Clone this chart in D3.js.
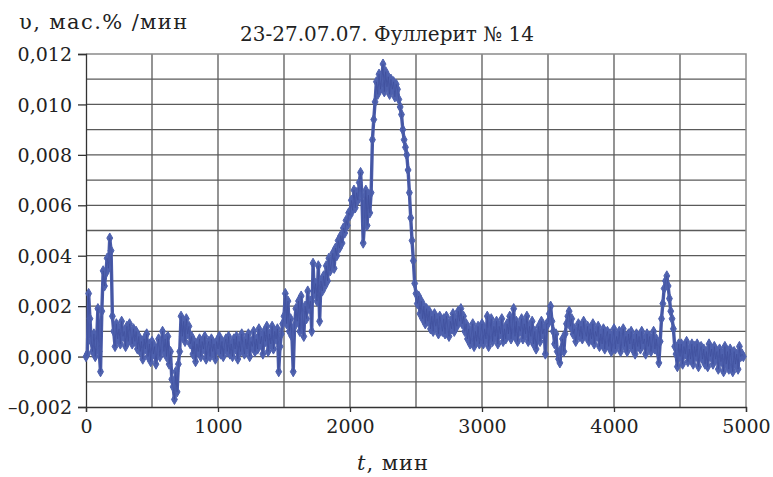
<!DOCTYPE html>
<html><head><meta charset="utf-8">
<script src="https://cdn.jsdelivr.net/npm/d3@7"></script>
<style>
html,body{margin:0;padding:0;background:#fff;}
svg text{font-family:"DejaVu Serif","Liberation Serif",serif;fill:#222;}
</style></head>
<body><svg id="chart" width="773" height="477"></svg>
<script>
// Time step of series (minutes)
const tStep = 10;
// Rate values, in units of 0.001 mass%/min, sampled every 10 min starting at t = 0
const rateE3 = [
 0.0, 0.1, 2.5, 1.5, 0.6, 0.2, 0.9, 0.0, 0.5, 1.9,
 0.2, -0.6, 1.8, 3.4, 2.8, 3.3, 3.9, 3.5, 4.7, 4.2,
 1.6, 1.0, 0.4, 1.3, 0.7, 1.1, 0.5, 1.4, 0.8, 1.0,
 0.4, 1.2, 0.6, 1.3, 0.9, 0.5, 1.1, 0.6, 1.0, 0.3,
 0.8, 0.2, 0.6, -0.1, 0.7, 0.3, 0.9, 0.0, 0.5, -0.2,
 0.6, 0.1, 0.4, -0.3, 0.3, 0.7, 0.0, 0.5, 1.0, 0.2,
 0.7, 0.0, 0.8, -0.3, 0.2, -0.9, -1.2, -1.7, -0.6, -1.4,
 -0.3, 0.2, 1.6, 0.8, 1.4, 0.6, 1.5, 0.9, 1.2, 0.5,
 0.8, 0.1, 0.6, -0.2, 0.5, 0.2, 0.7, 0.0, 0.6, 0.3,
 0.8, -0.1, 0.4, 0.6, 0.0, 0.7, 0.2, 0.5, -0.1, 0.6,
 0.3, 0.8, 0.1, 0.6, 0.0, 0.5, 0.7, 0.2, 0.8, 0.1,
 0.5, 0.0, 0.7, 0.3, 0.8, -0.1, 0.6, 0.2, 0.9, 0.4,
 0.1, 0.7, 0.3, 0.9, 0.0, 0.6, 0.4, 1.0, 0.2, 0.7,
 0.3, 1.1, 0.5, 0.8, 0.1, 1.0, 0.6, 1.2, 0.2, 0.9,
 0.5, 1.2, 0.3, 1.0, 0.7, 1.1, -0.6, 0.4, 0.9, 1.3,
 1.6, 2.5, 1.3, 2.2, 1.0, 1.5, 0.8, -0.6, 1.2, 1.9,
 1.4, 2.2, 1.0, 2.4, 1.6, 0.8, 2.0, 1.5, 2.6, 1.9,
 2.2, 1.0, 3.7, 2.5, 2.9, 2.2, 3.6, 1.4, 3.0, 2.6,
 3.2, 2.8, 3.6, 3.0, 3.9, 3.4, 3.7, 4.1, 3.5, 4.3,
 4.0, 4.6, 4.3, 4.8, 4.5, 5.1, 4.9, 5.4, 5.2, 5.7,
 5.6, 6.2, 5.8, 6.6, 5.9, 6.5, 6.2, 6.9, 7.3, 6.4,
 4.5, 5.3, 6.6, 5.2, 6.4, 5.7, 6.5, 8.6, 9.4, 10.1,
 10.9, 10.4, 11.2, 10.6, 11.0, 11.6, 10.5, 11.3, 10.7, 11.1,
 10.4, 11.0, 10.6, 10.9, 10.3, 10.8, 10.6, 10.2, 9.9, 9.6,
 9.0, 8.6, 8.3, 8.0, 7.4, 6.5, 5.5, 4.6, 3.8, 2.9,
 2.5, 2.1, 2.4, 1.7, 2.2, 1.5, 2.0, 1.3, 1.9, 1.4,
 1.8, 1.1, 1.6, 1.0, 1.7, 1.2, 1.5, 0.9, 1.6, 1.3,
 1.0, 1.5, 0.9, 1.6, 1.2, 0.8, 1.4, 1.1, 1.7, 1.0,
 1.5, 1.2, 1.8, 1.4, 1.9, 1.3, 1.6, 1.0, 1.3, 0.7,
 1.1, 0.5, 0.9, 1.3, 0.4, 1.0, 0.6, 1.2, 0.5, 0.9,
 1.3, 0.5, 1.1, 0.7, 1.6, 0.4, 1.0, 1.5, 0.6, 1.2,
 0.8, 1.4, 0.5, 1.2, 0.9, 1.5, 0.6, 1.1, 0.7, 1.3,
 0.9, 1.6, 0.7, 1.3, 1.9, 0.8, 1.4, 0.6, 1.2, 1.0,
 1.5, 0.7, 1.3, 0.9, 1.6, 0.6, 1.2, 0.8, 1.4, 0.5,
 1.0, 0.3, 0.8, 1.2, 0.6, 1.4, 0.9, 1.1, 0.1, 1.3,
 1.3, 1.7, 2.0, 1.4, 1.0, 0.5, 0.9, 0.2, -0.1, -0.25,
 0.3, 0.7, 0.2, 0.9, 1.3, 1.6, 1.8, 1.2, 1.5, 0.9,
 1.1, 0.6, 0.9, 1.3, 0.8, 1.2, 0.7, 1.4, 1.0, 0.8,
 1.2, 0.6, 1.1, 0.7, 1.3, 0.5, 1.0, 0.8, 1.2, 0.4,
 0.9, 0.5, 1.1, 0.3, 0.8, 1.0, 0.4, 0.9, 0.2, 0.7,
 1.1, 0.3, 0.8, 0.5, 1.0, 0.2, 0.7, 1.1, 0.4, 0.8,
 0.2, 0.9, 0.5, 1.0, 0.3, 0.7, 0.1, 0.9, 0.4, 0.8,
 0.3, 1.0, 0.5, 0.7, 0.1, 0.9, 0.4, 0.8, 0.2, 0.6,
 1.0, 0.3, 0.7, 0.2, -0.25, 0.6, 1.5, 2.1, 2.7, 3.0,
 3.2, 2.8, 2.3, 1.8, 1.5, 1.1, 0.4, 0.1, -0.4, 0.5,
 0.0, 0.5, -0.3, 0.4, 0.1, 0.6, -0.2, 0.3, -0.1, 0.5,
 -0.3, 0.4, 0.0, 0.5, -0.4, 0.2, 0.4, -0.1, 0.3, -0.3,
 0.2, -0.4, 0.5, 0.0, 0.3, -0.3, 0.4, -0.1, 0.2, -0.5,
 0.3, -0.2, 0.1, -0.6, 0.4, -0.3, 0.2, -0.5, 0.3, -0.1,
 -0.6, 0.2, -0.3, 0.1, -0.5, 0.4, 0.0, 0.1, 0.0
];
const xTicks = [0, 1000, 2000, 3000, 4000, 5000];
const xGrid = [500, 1000, 1500, 2000, 2500, 3000, 3500, 4000, 4500];
const yTicksE3 = [-2, 0, 2, 4, 6, 8, 10, 12];
const yTickLabels = ["\u20130,002", "0,000", "0,002", "0,004", "0,006", "0,008", "0,010", "0,012"];
const yGridE3 = [-1, 0, 1, 2, 3, 4, 5, 6, 7, 8, 9, 10, 11];
const titleText = "23-27.07.07. Фуллерит № 14";
const yLabelText = "υ, мас.% /мин";

const svg = d3.select("#chart");
const L = 86, R = 746, T = 54, B = 407;
const x = d3.scaleLinear().domain([0, 5000]).range([L, R]);
const y = d3.scaleLinear().domain([-2, 12]).range([B, T]);

const data = rateE3.map((v, i) => ({t: i * tStep, v}));

// grid
const g = svg.append("g");
g.selectAll("line.vg").data(xGrid).join("line")
  .attr("x1", d => x(d)).attr("x2", d => x(d)).attr("y1", T).attr("y2", B)
  .attr("stroke", "#5a5a5a").attr("stroke-width", 1.3);
g.selectAll("line.hg").data(yGridE3).join("line")
  .attr("x1", L).attr("x2", R).attr("y1", d => y(d)).attr("y2", d => y(d))
  .attr("stroke", "#5a5a5a").attr("stroke-width", 1.3);
// top/right border
svg.append("path").attr("d", `M${L},${T}H${R}V${B}`).attr("fill", "none")
  .attr("stroke", "#8a8a8a").attr("stroke-width", 1.5);

// axes
const yAxis = d3.axisLeft(y).tickValues(yTicksE3).tickSize(8).tickPadding(6)
  .tickFormat((d, i) => yTickLabels[i]);
const ya = svg.append("g").attr("transform", `translate(${L},0)`).call(yAxis);
ya.select(".domain").attr("stroke", "#333").attr("stroke-width", 1.3);
ya.selectAll(".tick line").attr("stroke", "#333").attr("stroke-width", 1.3);
ya.selectAll("text").style("font-size", "19px").attr("fill", "#222").attr("dy", "0.35em");

const xAxis = d3.axisBottom(x).tickValues(xTicks).tickSize(5).tickPadding(8)
  .tickFormat(d3.format("d"));
const xa = svg.append("g").attr("transform", `translate(0,${B})`).call(xAxis);
xa.select(".domain").attr("stroke", "#333").attr("stroke-width", 1.3);
xa.selectAll(".tick line").attr("stroke", "#333").attr("stroke-width", 1.3);
xa.selectAll("text").style("font-size", "19px").attr("fill", "#222");

// series
const line = d3.line().x(d => x(d.t)).y(d => y(d.v));
svg.append("path").datum(data).attr("d", line).attr("fill", "none")
  .attr("stroke", "#4a5caa").attr("stroke-width", 3.4).attr("stroke-linejoin", "round");
const sym = d3.symbol().type(d3.symbolDiamond).size(30);
svg.append("g").selectAll("path").data(data).join("path")
  .attr("transform", d => `translate(${x(d.t)},${y(d.v)})`)
  .attr("d", sym).attr("fill", "#4e61ae").attr("stroke", "#4e61ae").attr("stroke-width", 1);
svg.append("path").datum(data).attr("d", line).attr("fill", "none")
  .attr("stroke", "#2c3784").attr("stroke-width", 0.5).attr("opacity", 0.5);

// texts
svg.append("text").attr("x", 387).attr("y", 41).attr("text-anchor", "middle")
  .style("font-size", "20px").text(titleText);
svg.append("text").attr("x", 19).attr("y", 29)
  .style("font-size", "21px").style("letter-spacing", "1.4px").text(yLabelText);
const xl = svg.append("text").attr("x", 393).attr("y", 470).attr("text-anchor", "middle")
  .style("font-size", "21px").style("letter-spacing", "1px");
xl.append("tspan").style("font-style", "italic").text("t");
xl.append("tspan").text(", мин");
</script></body></html>
